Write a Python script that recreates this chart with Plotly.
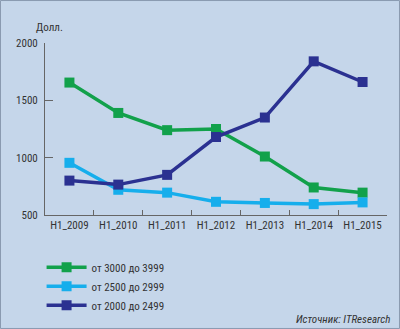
import plotly.graph_objects as go

categories = ["H1_2009", "H1_2010", "H1_2011", "H1_2012", "H1_2013", "H1_2014", "H1_2015"]
s_3000 = [1655, 1390, 1240, 1250, 1010, 740, 695]
s_2500 = [955, 720, 695, 615, 605, 595, 610]
s_2000 = [800, 765, 850, 1180, 1350, 1840, 1660]
names = ["от 3000 до 3999", "от 2500 до 2999", "от 2000 до 2499"]
colors = ["#12A14B", "#16AEEC", "#2B3191"]
y_ticks = [500, 1000, 1500, 2000]

FONT = "Liberation Sans Narrow, Arial Narrow, Roboto Condensed, Liberation Sans, sans-serif"
BG = "#C5D6EA"

fig = go.Figure()
for vals, name, col in zip([s_3000, s_2500, s_2000], names, colors):
    fig.add_trace(go.Scatter(
        x=categories, y=vals, name=name, mode="lines+markers",
        line=dict(color=col, width=3.5),
        marker=dict(symbol="square", size=10, color=col),
    ))

fig.update_layout(
    width=400, height=329,
    margin=dict(l=45, r=13, t=43, b=114, autoexpand=False),
    paper_bgcolor=BG, plot_bgcolor=BG,
    font=dict(family=FONT, size=11, color="#333333"),
    showlegend=True,
    legend=dict(x=-0.01, y=-0.22, xanchor="left", yanchor="top",
                bgcolor="rgba(0,0,0,0)", font=dict(size=11, color="#333333"),
                itemwidth=40, tracegroupgap=0),
    xaxis=dict(type="category", range=[-0.5, 6.5], showgrid=False,
               showline=True, linecolor="#666666", linewidth=1,
               ticks="inside", tickson="boundaries", ticklen=5,
               tickcolor="#666666", zeroline=False, tickangle=0,
               automargin=False, tickfont=dict(size=11)),
    yaxis=dict(range=[500, 2000], tickvals=y_ticks, showgrid=False,
               showline=True, linecolor="#666666", linewidth=1,
               ticks="inside", ticklen=8, tickcolor="#666666",
               zeroline=False, ticklabelstandoff=4, automargin=False,
               tickfont=dict(size=11)),
    annotations=[
        dict(text="Долл.", xref="paper", yref="paper", x=0.012, y=1.09,
             xanchor="center", yanchor="middle", showarrow=False,
             font=dict(size=11, color="#333333")),
        dict(text="<i>Источник: ITResearch</i>", xref="paper", yref="paper",
             x=1.015, y=-0.61, xanchor="right", yanchor="middle", showarrow=False,
             font=dict(size=11, color="#333333")),
    ],
    shapes=[
        dict(type="rect", xref="paper", yref="paper",
             x0=-45/342 + 0.0015, x1=1 + 13/342 - 0.0015,
             y0=-114/172 + 0.003, y1=1 + 43/172 - 0.003,
             line=dict(color="#8A9AB0", width=1), fillcolor="rgba(0,0,0,0)",
             layer="below"),
    ],
)

fig.write_html("out.html")
